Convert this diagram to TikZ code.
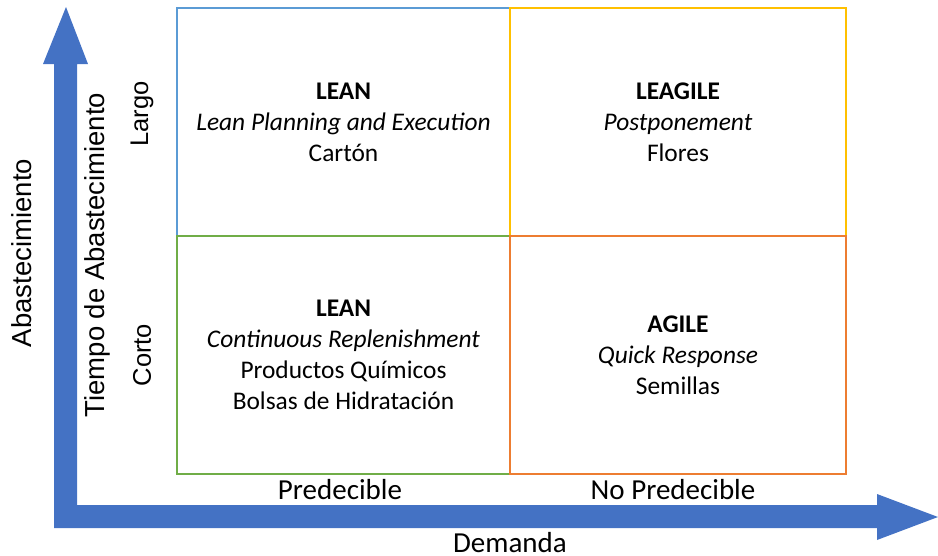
\documentclass[tikz,border=0pt]{standalone}
\usepackage{fontspec}
\setmainfont{Carlito}
\newfontfamily\axisfont{Liberation Sans}
\definecolor{arrowblue}{HTML}{4472C4}
\definecolor{qblue}{HTML}{5B9BD5}
\definecolor{qyellow}{HTML}{FFC000}
\definecolor{qgreen}{HTML}{70AD47}
\definecolor{qorange}{HTML}{ED7D31}
\begin{document}
\begin{tikzpicture}[x=1pt,y=-1pt,
  quad/.style={draw, line width=1.3pt, minimum width=333pt, minimum height=238pt,
    inner sep=0pt, align=center, font=\fontsize{25.4}{31}\selectfont},
  vlabel/.style={rotate=90, font=\axisfont\fontsize{27.5}{30}\selectfont, inner sep=0pt},
  hlabel/.style={font=\fontsize{29}{32}\selectfont, inner sep=0pt}]
\useasboundingbox (0,0) rectangle (938,555);

% axes: one L-shaped band with an arrow head at each end
\fill[arrowblue] (54,528) -- (54,64) -- (43,64) -- (66,7) -- (88,64) -- (77,64)
  -- (77,505) -- (877,505) -- (877,494) -- (938,517) -- (877,540) -- (877,528) -- cycle;

% quadrants
\node[quad, draw=qblue, minimum height=228pt] (tl) at (343.5,122)
  {\textbf{LEAN}\\\textit{Lean Planning and Execution}\\Cartón};
\node[quad, draw=qyellow, minimum width=336pt, minimum height=228pt] (tr) at (678,122)
  {\textbf{LEAGILE}\\\textit{Postponement}\\Flores};
\node[quad, draw=qgreen] (bl) at (343.5,355)
  {\textbf{LEAN}\\\textit{Continuous Replenishment}\\Productos Químicos\\Bolsas de Hidratación};
\node[quad, draw=qorange, minimum width=336pt] (br) at (678,355)
  {\textbf{AGILE}\\\textit{Quick Response}\\Semillas};

% axis labels
\node[vlabel] (supply) at (22,253) {Abastecimiento};
\node[vlabel] (leadtime) at (97,255) {Tiempo de Abastecimiento};
\node[vlabel, font=\axisfont\fontsize{25.5}{30}\selectfont] (long) at (142,114) {Largo};
\node[vlabel, font=\axisfont\fontsize{25.5}{30}\selectfont] (short) at (142,355) {Corto};
\node[hlabel] (pred) at (340,490) {Predecible};
\node[hlabel] (npred) at (673,490) {No Predecible};
\node[hlabel, anchor=base] (demand) at (510,552) {Demanda};
\end{tikzpicture}
\end{document}
